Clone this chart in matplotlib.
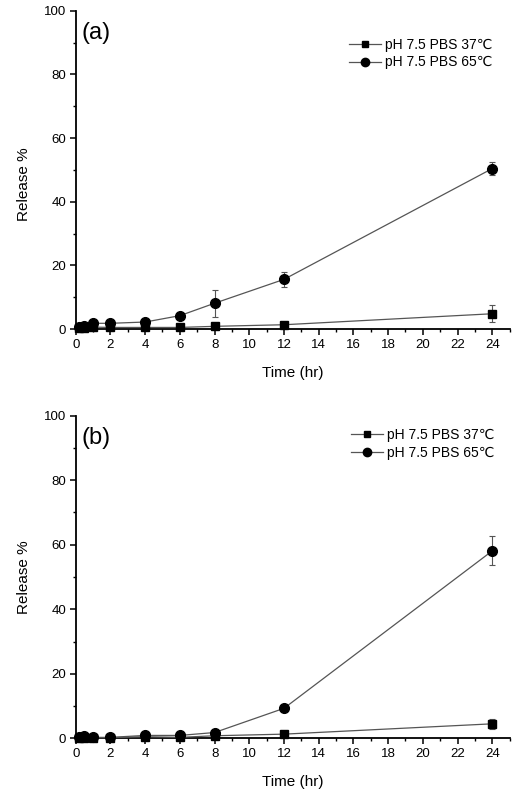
import matplotlib
matplotlib.use("Agg")
import matplotlib.pyplot as plt
from matplotlib.lines import Line2D
from matplotlib.ticker import MultipleLocator

plt.rcParams['font.family'] = ['Liberation Sans', 'DejaVu Sans']

# sampling times (hr)
times = [0.17, 0.5, 1, 2, 4, 6, 8, 12, 24]

# panel (a)
a_37 = [0.2, 0.3, 0.6, 0.5, 0.5, 0.5, 0.85, 1.35, 4.8]
a_37_err = [0, 0, 0.3, 0, 0, 0, 0.3, 0.3, 2.7]
a_65 = [0.6, 0.85, 1.8, 1.8, 2.2, 4.2, 8.1, 15.6, 50.4]
a_65_err = [0, 0, 0.8, 0.3, 0.3, 0.3, 4.3, 2.3, 2.0]

# panel (b)
b_37 = [0.1, 0.2, 0.2, 0.2, 0.5, 0.3, 0.8, 1.3, 4.5]
b_37_err = [0, 0, 0, 0, 0, 0, 0, 0.3, 1.5]
b_65 = [0.3, 0.6, 0.3, 0.3, 0.9, 0.9, 1.8, 9.3, 58.1]
b_65_err = [0, 0, 0, 0, 0.2, 0.2, 0.3, 0.8, 4.5]

labels = ['pH 7.5 PBS 37\u2103', 'pH 7.5 PBS 65\u2103']

fig = plt.figure(figsize=(5.19, 7.90), dpi=100)

line_c = '#555555'

def draw_panel(ax, y37, e37, y65, e65, tag, ylab_y, leg_xy):
    ax.errorbar(times, y37, yerr=e37, color=line_c, lw=0.9, marker='s', ms=6,
                mfc='black', mec='black', ecolor=line_c, elinewidth=0.8,
                capsize=2.5, capthick=0.8, clip_on=False, zorder=3)
    ax.errorbar(times, y65, yerr=e65, color=line_c, lw=0.9, marker='o', ms=7,
                mfc='black', mec='black', ecolor=line_c, elinewidth=0.8,
                capsize=2.5, capthick=0.8, clip_on=False, zorder=4)
    ax.set_xlim(0, 25)
    ax.set_ylim(0, 100)
    for s in ['top', 'right']:
        ax.spines[s].set_visible(False)
    for s in ['left', 'bottom']:
        ax.spines[s].set_linewidth(1.3)
    ax.xaxis.set_major_locator(MultipleLocator(2))
    ax.xaxis.set_minor_locator(MultipleLocator(1))
    ax.yaxis.set_major_locator(MultipleLocator(20))
    ax.yaxis.set_minor_locator(MultipleLocator(10))
    ax.tick_params(which='major', direction='out', length=4, width=1.1,
                   labelsize=9.5, pad=3)
    ax.tick_params(which='minor', direction='out', length=2.5, width=1.0)
    ax.set_xlabel('Time (hr)', fontsize=11, labelpad=11)
    ax.set_ylabel('Release %', fontsize=11)
    ax.yaxis.set_label_coords(-0.103, ylab_y)
    ax.text(0.013, 0.93, tag, transform=ax.transAxes, fontsize=17,
            ha='left', va='center')
    handles = [
        Line2D([], [], color=line_c, lw=0.9, marker='s', ms=5, mfc='black', mec='black'),
        Line2D([], [], color=line_c, lw=0.9, marker='o', ms=6, mfc='black', mec='black'),
    ]
    ax.legend(handles, labels, loc='upper left', bbox_to_anchor=leg_xy,
              bbox_transform=fig.transFigure, frameon=False, fontsize=10,
              handlelength=2.3, handletextpad=0.3, labelspacing=0.25,
              borderpad=0, borderaxespad=0)

ax1 = fig.add_axes([0.1459, 0.5835, 0.836, 0.403])
draw_panel(ax1, a_37, a_37_err, a_65, a_65_err, '(a)', 0.456, (0.672, 0.952))

ax2 = fig.add_axes([0.1459, 0.0654, 0.836, 0.4084])
draw_panel(ax2, b_37, b_37_err, b_65, b_65_err, '(b)', 0.5, (0.676, 0.458))

fig.savefig('out.png', dpi=100)
